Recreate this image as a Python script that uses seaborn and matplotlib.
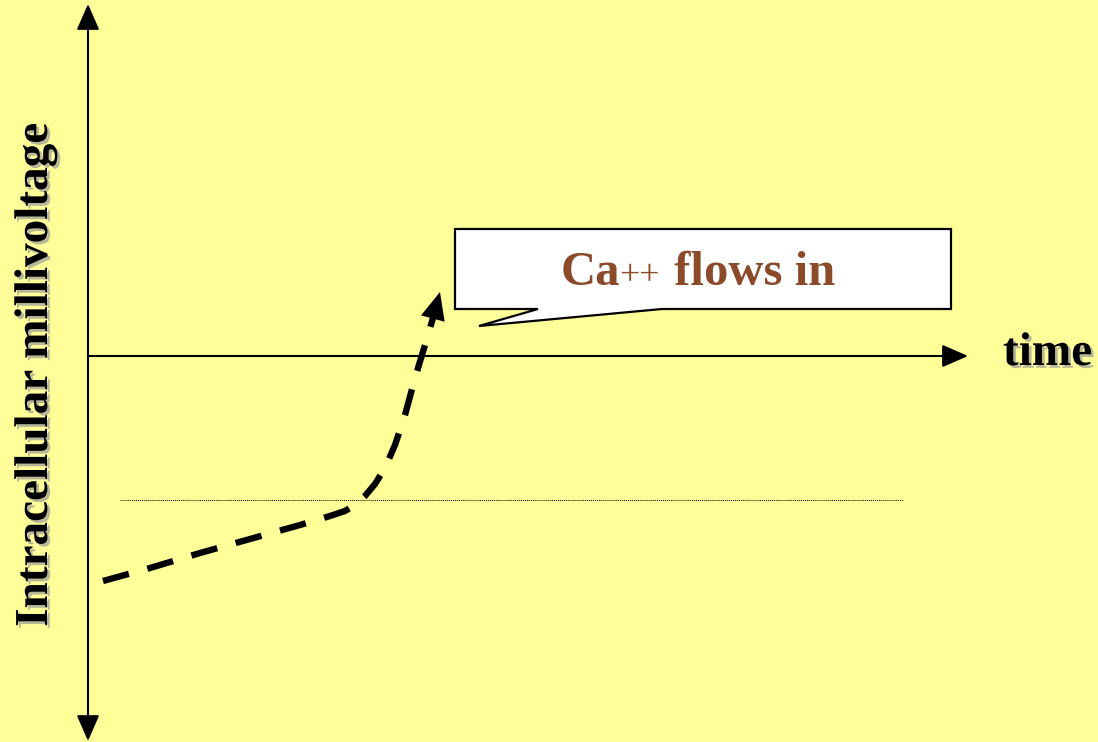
import matplotlib
matplotlib.use("Agg")
import matplotlib.pyplot as plt
import matplotlib.patheffects as pe
from matplotlib.patches import Polygon
import seaborn as sns
import pandas as pd

# ---- data (pixel-space coordinates) ----
curve_x = [103, 150, 200, 250, 300, 330, 345, 355, 365, 375, 385, 395, 405, 415, 425, 433, 437]
curve_y = [581, 568, 553, 539, 525, 516, 511, 505, 496, 484, 468, 445, 415, 378, 345, 318, 303]
arrow_tip = (440, 292)
threshold_x = [120, 903]
threshold_y = [500, 500]
y_axis_x = 88
x_axis_y = 356
callout_text = ["Ca", "++", " flows in"]
x_label = "time"
y_label = "Intracellular millivoltage"

BG = "#FFFF99"
BROWN = "#8B4B2B"

sns.set_style("white")
plt.rcParams["font.family"] = ["Liberation Serif", "DejaVu Serif"]

fig = plt.figure(figsize=(10.98, 7.42), dpi=100, facecolor=BG)
ax = fig.add_axes([0, 0, 1, 1])
ax.set_facecolor(BG)
ax.set_xlim(0, 1098)
ax.set_ylim(742, 0)
ax.axis("off")

# axes arrows
ax.annotate("", xy=(y_axis_x, 4), xytext=(y_axis_x, 741),
            arrowprops=dict(arrowstyle="<|-|>,head_length=0.8,head_width=0.35",
                            color="black", lw=1.5, shrinkA=0, shrinkB=0,
                            mutation_scale=20))
ax.annotate("", xy=(968, x_axis_y), xytext=(y_axis_x, x_axis_y),
            arrowprops=dict(arrowstyle="-|>,head_length=0.8,head_width=0.35",
                            color="black", lw=1.5, shrinkA=0, shrinkB=0,
                            mutation_scale=20))

# threshold dotted line
sns.lineplot(x=threshold_x, y=threshold_y, ax=ax, color="black",
             linewidth=0.7, linestyle=(0, (1, 1)))

# dashed membrane potential curve
df = pd.DataFrame({"t": curve_x, "v": curve_y})
sns.lineplot(data=df, x="t", y="v", ax=ax, sort=False, color="black",
             linewidth=4.6)
ln = ax.lines[-1]
ln.set_dashes((4.2, 3.0))
ln.set_solid_capstyle("butt")
ln.set_dash_capstyle("butt")

ax.annotate("", xy=arrow_tip, xytext=(curve_x[-2], curve_y[-2]),
            arrowprops=dict(arrowstyle="-|>,head_length=0.9,head_width=0.4",
                            color="black", lw=0, shrinkA=0, shrinkB=0,
                            mutation_scale=22))

# callout
poly = Polygon([(455, 229), (951, 229), (951, 309), (662, 309), (479, 326),
                (538, 309), (455, 309)], closed=True, facecolor="white",
               edgecolor="black", linewidth=1.6, joinstyle="miter", zorder=5)
ax.add_patch(poly)
ax.text(561, 285, callout_text[0], color=BROWN, fontsize=35, fontweight="bold",
        ha="left", va="baseline", zorder=6)
ax.text(619, 285, callout_text[1], color=BROWN, fontsize=26, fontweight="normal",
        ha="left", va="baseline", zorder=6)
ax.text(662, 285, callout_text[2], color=BROWN, fontsize=35, fontweight="bold",
        ha="left", va="baseline", zorder=6)

shadow = [pe.withSimplePatchShadow(offset=(2, -2), shadow_rgbFace="#9A9A9A", alpha=0.7)]
ax.text(1003, 365, x_label, fontsize=34, fontweight="bold", color="black",
        ha="left", va="baseline", path_effects=shadow)
ax.text(36, 375, y_label, fontsize=34, fontweight="bold", color="black",
        rotation=90, ha="center", va="center", path_effects=shadow)

fig.savefig("out.png", dpi=100, facecolor=BG)
